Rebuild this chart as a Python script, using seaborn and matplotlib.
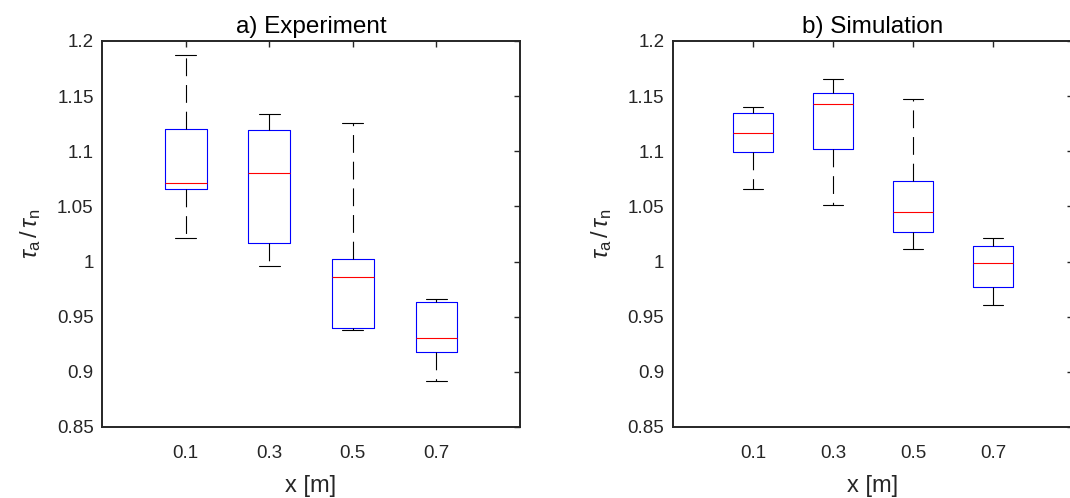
import numpy as np
import pandas as pd
import matplotlib
matplotlib.use("Agg")
import matplotlib.pyplot as plt
import seaborn as sns

# ---- data ----
positions = ["0.1", "0.3", "0.5", "0.7"]

exp_min = [1.021, 0.996, 0.938, 0.8915]
exp_q1 = [1.0655, 1.017, 0.940, 0.918]
exp_med = [1.0715, 1.080, 0.986, 0.931]
exp_q3 = [1.120, 1.119, 1.002, 0.963]
exp_max = [1.187, 1.134, 1.1255, 0.966]

sim_min = [1.066, 1.0515, 1.0115, 0.9606]
sim_q1 = [1.099, 1.102, 1.0264, 0.9767]
sim_med = [1.1167, 1.1433, 1.0445, 0.9988]
sim_q3 = [1.1345, 1.1527, 1.0727, 1.0139]
sim_max = [1.140, 1.1657, 1.1473, 1.0218]

titles = ["a) Experiment", "b) Simulation"]
yticks = [0.85, 0.9, 0.95, 1.0, 1.05, 1.1, 1.15, 1.2]
ytick_labels = ["0.85", "0.9", "0.95", "1", "1.05", "1.1", "1.15", "1.2"]


def summary_frame(mins, q1s, meds, q3s, maxs):
    rows = []
    for p, a, b, c, d, e in zip(positions, mins, q1s, meds, q3s, maxs):
        for v in (a, b, c, d, e):
            rows.append({"x": p, "val": v})
    return pd.DataFrame(rows)


df_exp = summary_frame(exp_min, exp_q1, exp_med, exp_q3, exp_max)
df_sim = summary_frame(sim_min, sim_q1, sim_med, sim_q3, sim_max)

sns.set_style("white")
plt.rcParams["font.family"] = ["Liberation Sans", "DejaVu Sans"]
plt.rcParams["mathtext.fontset"] = "custom"
plt.rcParams["mathtext.rm"] = "Liberation Sans"
plt.rcParams["mathtext.it"] = "Liberation Sans:italic"

fig = plt.figure(figsize=(10.7, 4.98), dpi=100)
ax1 = fig.add_axes([102 / 1070, 71 / 498, 418 / 1070, 386 / 498])
ax2 = fig.add_axes([672.7 / 1070, 71 / 498, 400.6 / 1070, 386 / 498])

dark = (0.15, 0.15, 0.15)
for ax, df, title in zip([ax1, ax2], [df_exp, df_sim], titles):
    sns.boxplot(
        data=df, x="x", y="val", order=positions, ax=ax,
        whis=np.inf, width=0.5, fill=False, showfliers=False,
        linewidth=0.8,
        boxprops=dict(color="#0000ff", linewidth=0.8),
        medianprops=dict(color="#ff0000", linewidth=0.8),
        whiskerprops=dict(color="black", linewidth=0.8, linestyle=(0, (16, 8))),
        capprops=dict(color="black", linewidth=0.8),
    )
    ax.set_xlim(-1, 4)
    ax.set_ylim(0.85, 1.2)
    ax.set_yticks(yticks)
    ax.set_yticklabels(ytick_labels)
    ax.set_title(title, fontsize=17.5, color="black", pad=6)
    ax.set_xlabel("x [m]", fontsize=17, color=dark, labelpad=9)
    ax.set_ylabel(r"$\tau_{\mathrm{a}}\,/\,\tau_{\mathrm{n}}$", fontsize=17,
                  color=dark, labelpad=10)
    ax.tick_params(direction="in", top=True, right=True, length=4, width=1,
                   labelsize=13.5, colors=dark, pad=6)
    ax.tick_params(axis="x", pad=13)
    for s in ax.spines.values():
        s.set_visible(True)
        s.set_color(dark)
        s.set_linewidth(1.4)

fig.savefig("out.png", dpi=100)
